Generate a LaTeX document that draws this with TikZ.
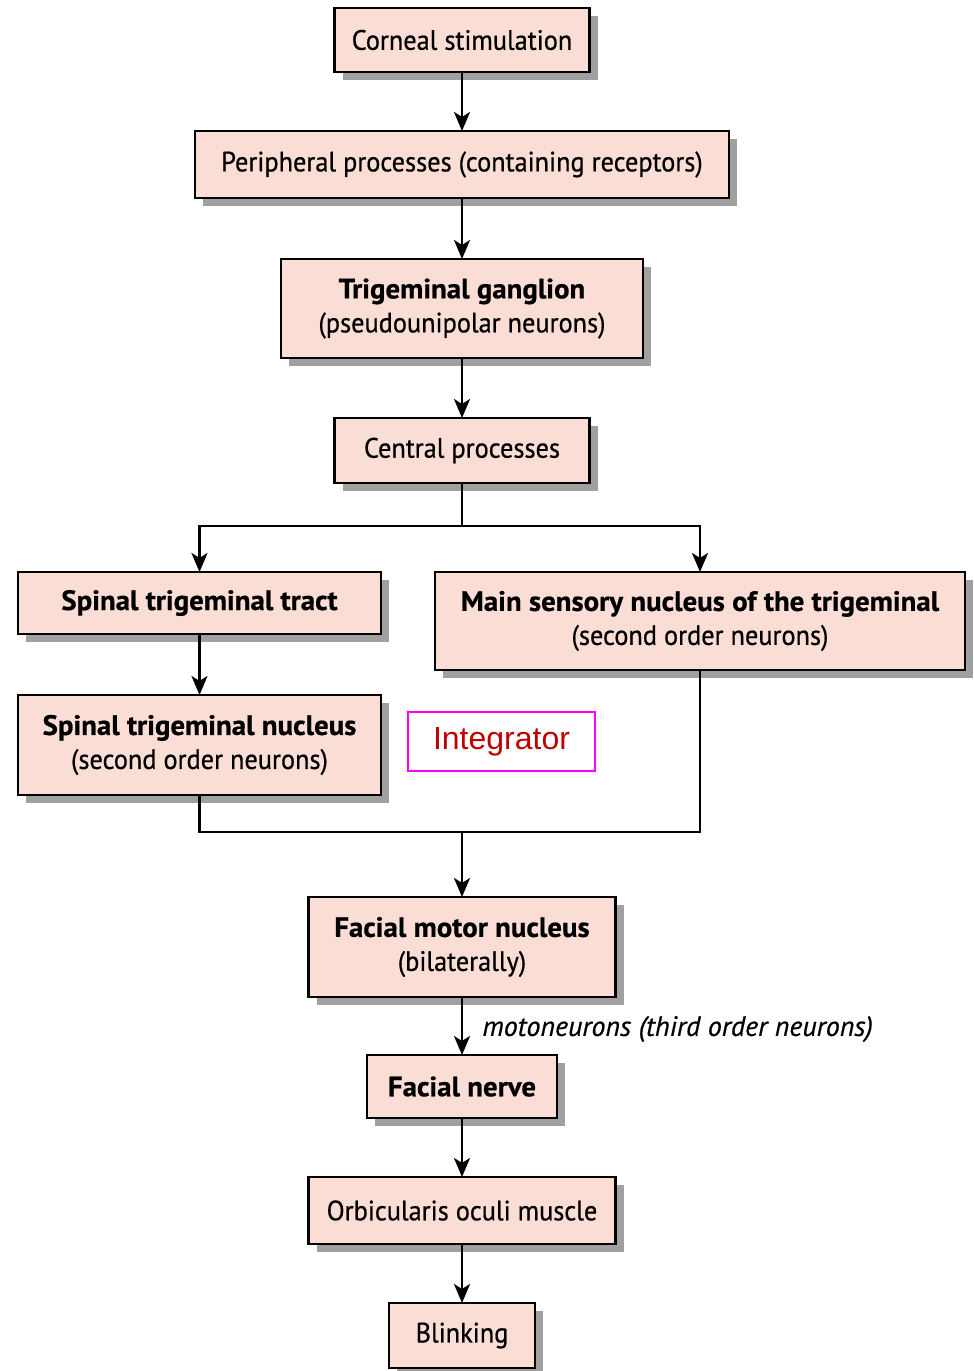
\documentclass[tikz,border=0pt]{standalone}
\usepackage{fontspec}
\setmainfont{PT Sans}[FakeStretch=0.94, FakeBold=0.6,
  BoldFeatures={FakeStretch=1.03},
  ItalicFeatures={FakeStretch=1.0}]
\newfontfamily\arialfont{Liberation Sans}
\usetikzlibrary{arrows.meta,shadows}
\definecolor{boxfill}{RGB}{250,221,213}
\definecolor{shadowgray}{RGB}{160,160,160}
\definecolor{intred}{RGB}{192,0,0}
\definecolor{intmag}{RGB}{255,0,255}
\tikzset{
  flowbox/.style={draw=black, line width=2.2pt, fill=boxfill, align=center,
    inner sep=0pt, outer sep=0pt,
    drop shadow={shadow xshift=8pt, shadow yshift=-8pt, fill=shadowgray, opacity=1},
    font=\fontsize{28}{34}\selectfont},
  boldbox/.style={flowbox, font=\fontsize{28}{34}\selectfont\bfseries},
  arr/.style={line width=2.8pt, -{Stealth[length=19pt,width=16pt,inset=5pt]}},
  link/.style={line width=2.8pt},
}
\begin{document}
\begin{tikzpicture}[x=1pt,y=-1pt]
\useasboundingbox (0,0) rectangle (974,1371);

\node[flowbox, minimum width=255pt, minimum height=64pt] (corneal) at (462,40) {Corneal stimulation};
\node[flowbox, minimum width=534pt, minimum height=67pt] (periph) at (462,164.5) {Peripheral processes (containing receptors)};
\node[flowbox, minimum width=362pt, minimum height=99pt] (ganglion) at (462,308.5) {\textbf{Trigeminal ganglion}\\(pseudounipolar neurons)};
\node[flowbox, minimum width=255pt, minimum height=65pt] (central) at (462,450.5) {Central processes};
\node[boldbox, minimum width=363pt, minimum height=62pt] (tract) at (199.5,603) {Spinal trigeminal tract};
\node[flowbox, minimum width=530pt, minimum height=98pt] (mainsens) at (700,621) {\textbf{Main sensory nucleus of the trigeminal}\\(second order neurons)};
\node[flowbox, minimum width=363pt, minimum height=100pt] (spnuc) at (199.5,745) {\textbf{Spinal trigeminal nucleus}\\(second order neurons)};
\node[draw=intmag, line width=1.6pt, minimum width=187pt, minimum height=59pt, inner sep=0pt,
      text=intred, font=\arialfont\fontsize{32}{36}\selectfont] (integ) at (501.5,741.5) {Integrator};
\node[flowbox, minimum width=307pt, minimum height=100pt] (facmot) at (462,947) {\textbf{Facial motor nucleus}\\(bilaterally)};
\node[boldbox, minimum width=190pt, minimum height=63pt] (facnerve) at (462,1086.5) {Facial nerve};
\node[flowbox, minimum width=307pt, minimum height=67pt] (orbic) at (462,1210.5) {Orbicularis oculi muscle};
\node[flowbox, minimum width=146pt, minimum height=65pt] (blink) at (462,1335.5) {Blinking};

\draw[arr] (corneal) -- (periph);
\draw[arr] (periph) -- (ganglion);
\draw[arr] (ganglion) -- (central);

\coordinate (split) at (462,526);
\draw[link] (central) -- (split);
\draw[arr] (split) -| (tract.north);
\draw[arr] (split) -| (mainsens.north);
\draw[arr] (tract) -- (spnuc);

\coordinate (merge) at (462,832);
\draw[link] (spnuc.south) |- (mainsens.south |- merge) -- (mainsens.south);
\draw[arr] (merge) -- (facmot);

\draw[arr] (facmot) -- node[right=19pt, font=\itshape\fontsize{28}{34}\selectfont, inner sep=0pt, yshift=-3pt] (motolabel) {motoneurons (third order neurons)} (facnerve);
\draw[arr] (facnerve) -- (orbic);
\draw[arr] (orbic) -- (blink);
\end{tikzpicture}
\end{document}
